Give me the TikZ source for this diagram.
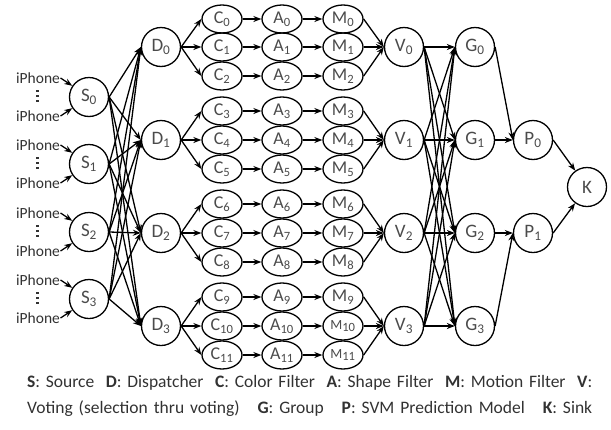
\documentclass[tikz,border=0pt]{standalone}
\usepackage{fontspec}
\setmainfont{Carlito}
\usetikzlibrary{arrows.meta,shapes.geometric}
\definecolor{lbl}{RGB}{75,75,75}
\definecolor{leg}{RGB}{50,50,50}
\newcommand\sbs[1]{\textsubscript{#1}}
\begin{document}
\begin{tikzpicture}[x=1pt,y=-1pt,
 cnode/.style={circle,draw,line width=1.3pt,minimum size=39pt,inner sep=0pt,text=lbl,font=\fontsize{19}{19}\selectfont},
 enode/.style={ellipse,draw,line width=1.3pt,minimum width=40pt,minimum height=28pt,inner sep=0pt,text=lbl,font=\fontsize{18}{18}\selectfont},
 arr/.style={line width=1.3pt,-{Stealth[length=8pt,width=6pt]}},
 src/.style={text=leg,font=\fontsize{15.5}{15.5}\selectfont,inner sep=0.5pt},
 dotmark/.style={fill=leg,draw=none,rectangle,minimum size=2.4pt,inner sep=0pt},
 legend/.style={text=leg,font=\fontsize{17.5}{17.5}\selectfont,inner sep=0pt,anchor=west}
]
\useasboundingbox (0,0) rectangle (611,429);
% sources
\foreach \i/\y in {0/97,1/164,2/232,3/299} {
  \node[cnode] (S\i) at (89,\y) {S\sbs{\i}};
  \node[src] (ia\i) at (38,\y-19) {iPhone};
  \node[src] (ib\i) at (38,\y+19) {iPhone};
  \node[dotmark] (da\i) at (37.5,\y-6) {};
  \node[dotmark] (db\i) at (37.5,\y-1) {};
  \node[dotmark] (dc\i) at (37.5,\y+4) {};
  \draw[arr] (ia\i.east) -- (S\i);
  \draw[arr] (ib\i.east) -- (S\i);
}
% D, V, G
\foreach \i/\y in {0/47,1/140,2/233,3/326} {
  \node[cnode] (D\i) at (161,\y) {D\sbs{\i}};
  \node[cnode] (V\i) at (404,\y) {V\sbs{\i}};
  \node[cnode] (G\i) at (475,\y) {G\sbs{\i}};
}
% C, A, M
\foreach \k/\y in {0/19,1/47,2/76,3/111,4/140,5/169,6/204,7/233,8/262,9/297} {
  \node[enode] (C\k) at (222,\y) {C\sbs{\k}};
  \node[enode] (A\k) at (282,\y) {A\sbs{\k}};
  \node[enode] (M\k) at (343,\y) {M\sbs{\k}};
}
\node[enode] (C10) at (222,326) {C\sbs{10}};
\node[enode] (A10) at (282,326) {A\sbs{10}};
\node[enode] (M10) at (343,326) {{\fontsize{14}{14}\selectfont M}\sbs{10}};
\node[enode] (C11) at (222,355) {C\sbs{11}};
\node[enode] (A11) at (282,355) {A\sbs{11}};
\node[enode] (M11) at (343,355) {{\fontsize{14}{14}\selectfont M}\sbs{11}};
% P, K
\node[cnode] (P0) at (533,140) {P\sbs{0}};
\node[cnode] (P1) at (533,233) {P\sbs{1}};
\node[cnode] (K) at (587,187) {K};
% edges
\foreach \i in {0,...,3} {
  \foreach \j in {0,...,3} {
    \draw[arr] (S\i.east) -- (D\j.west);
    \draw[arr] (V\i.east) -- (G\j.west);
  }
  \foreach \t in {0,1,2} {
    \pgfmathtruncatemacro\k{3*\i+\t}
    \draw[arr] (D\i.east) -- (C\k.west);
    \draw[arr] (C\k.east) -- (A\k.west);
    \draw[arr] (A\k.east) -- (M\k.west);
    \draw[arr] (M\k.east) -- (V\i.west);
  }
}
\draw[arr] (G0.east) -- (P0.west);
\draw[arr] (G1.east) -- (P0.west);
\draw[arr] (G2.east) -- (P1.west);
\draw[arr] (G3.east) -- (P1.west);
\draw[arr] (P0.east) -- (K);
\draw[arr] (P1.east) -- (K);
% legend
\node[legend] (L1) at (27,383) {\makebox[565pt][s]{\textbf{S}: Source\ \ \textbf{D}: Dispatcher\ \ \textbf{C}: Color Filter\ \ \textbf{A}: Shape Filter\ \ \textbf{M}: Motion Filter\ \ \textbf{V}:}};
\node[legend] (L2) at (27,409) {\makebox[565pt][s]{Voting (selection thru voting)\ \ \ \textbf{G}: Group\ \ \ \textbf{P}: SVM Prediction Model\ \ \ \textbf{K}: Sink}};
\end{tikzpicture}
\end{document}
